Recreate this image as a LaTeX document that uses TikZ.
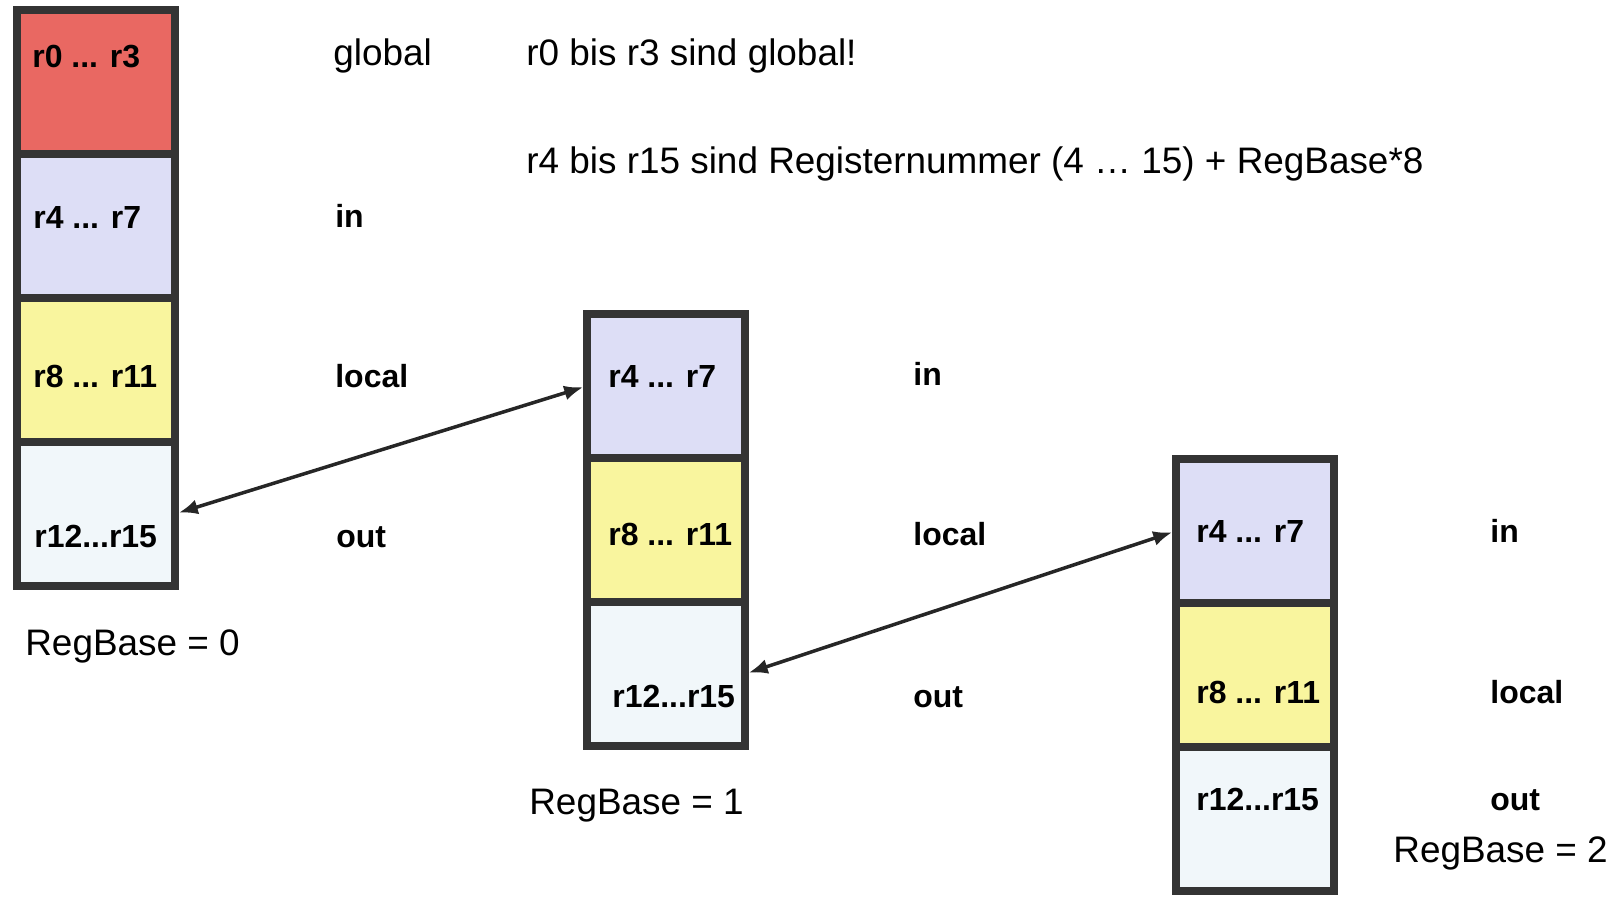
\documentclass[tikz,border=0pt]{standalone}
\usepackage{fontspec}
\setmainfont{Liberation Sans}
\usetikzlibrary{positioning,arrows.meta}

\definecolor{globalred}{RGB}{233,104,98}
\definecolor{inblue}{RGB}{221,222,246}
\definecolor{localyellow}{RGB}{249,245,158}
\definecolor{outwhite}{RGB}{241,247,250}
\definecolor{borderdark}{RGB}{52,52,52}

\tikzset{
  regcell/.style={draw=borderdark, line width=0.16cm, minimum width=3.16cm,
    minimum height=2.88cm, inner sep=0pt, outer sep=0pt},
  globalcell/.style={regcell, fill=globalred},
  incell/.style={regcell, fill=inblue},
  localcell/.style={regcell, fill=localyellow},
  outcell/.style={regcell, fill=outwhite},
  reglabel/.style={anchor=base west, inner sep=0pt,
    font=\fontsize{18.2}{20}\selectfont\bfseries},
  note/.style={anchor=base west, inner sep=0pt,
    font=\fontsize{21}{24}\selectfont},
  regwin/.style={{Latex[length=0.38cm,width=0.3cm]}-{Latex[length=0.38cm,width=0.3cm]},
    line width=0.07cm, draw=black!85, shorten >=0.08cm, shorten <=0.08cm}
}

\begin{document}
\begin{tikzpicture}[x=0.02cm, y=-0.02cm]
\useasboundingbox (0,0) rectangle (1616,896);

% RegBase = 0
\node[globalcell, anchor=north] (l0) at (96,10) {};
\node[incell, below=0pt of l0] (l1) {};
\node[localcell, below=0pt of l1] (l2) {};
\node[outcell, below=0pt of l2] (l3) {};
\node[reglabel] (tl0) at (32,67) {r0 ... r3};
\node[reglabel] (tl1) at (33,228) {r4 ... r7};
\node[reglabel] (tl2) at (33,387) {r8 ... r11};
\node[reglabel] (tl3) at (34,547) {r12...r15};
\node[note] (sl0) at (333,65) {global};
\node[reglabel] (sl1) at (335,227) {in};
\node[reglabel] (sl2) at (335,387) {local};
\node[reglabel] (sl3) at (336,547) {out};
\node[note] (base0) at (25,655) {RegBase = 0};

% RegBase = 1
\node[incell, anchor=north] (m1) at (666,314) {};
\node[localcell, below=0pt of m1] (m2) {};
\node[outcell, below=0pt of m2] (m3) {};
\node[reglabel] (tm1) at (608,387) {r4 ... r7};
\node[reglabel] (tm2) at (608,545) {r8 ... r11};
\node[reglabel] (tm3) at (612,707) {r12...r15};
\node[reglabel] (sm1) at (913,385) {in};
\node[reglabel] (sm2) at (913,545) {local};
\node[reglabel] (sm3) at (913,707) {out};
\node[note] (base1) at (529,814) {RegBase = 1};

% RegBase = 2
\node[incell, anchor=north] (r1) at (1255,459) {};
\node[localcell, below=0pt of r1] (r2) {};
\node[outcell, below=0pt of r2] (r3) {};
\node[reglabel] (tr1) at (1196,542) {r4 ... r7};
\node[reglabel] (tr2) at (1196,703) {r8 ... r11};
\node[reglabel] (tr3) at (1196,810) {r12...r15};
\node[reglabel] (sr1) at (1490,542) {in};
\node[reglabel] (sr2) at (1490,703) {local};
\node[reglabel] (sr3) at (1490,810) {out};
\node[note] (base2) at (1393,862) {RegBase = 2};

% notes
\node[note] (n1) at (526,65) {r0 bis r3 sind global!};
\node[note] (n2) at (526,173) {r4 bis r15 sind Registernummer (4 … 15) + RegBase*8};

\draw[regwin] (l3.east) -- (m1.west);
\draw[regwin] (m3.east) -- (r1.west);
\end{tikzpicture}
\end{document}
